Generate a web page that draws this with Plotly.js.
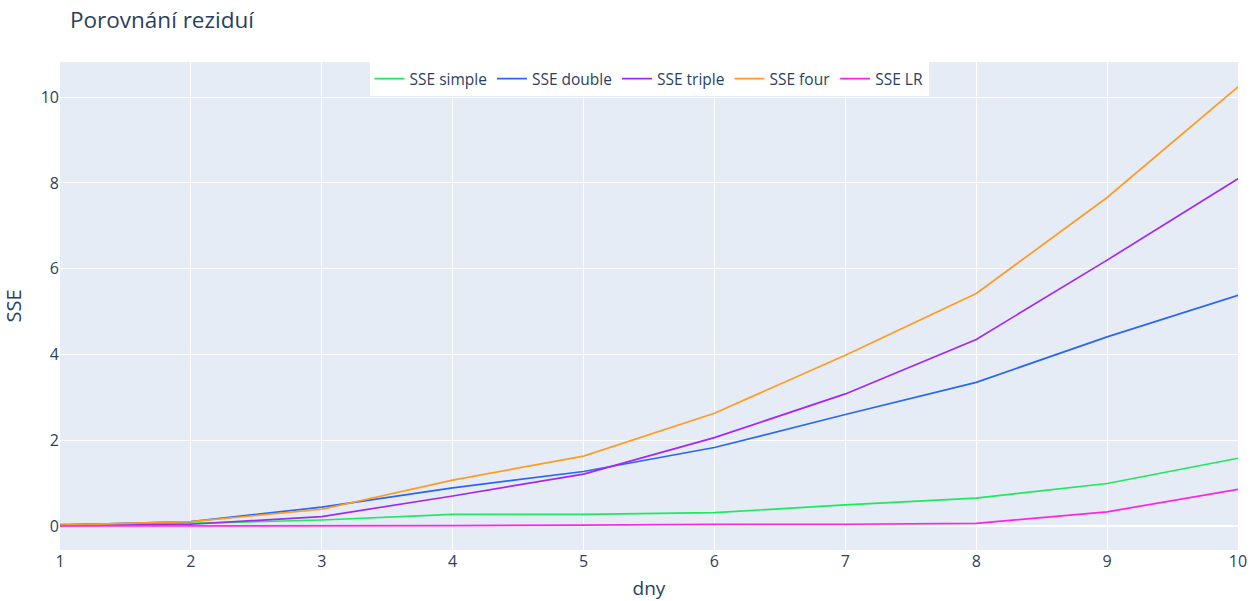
<!DOCTYPE html>
<html>
<head>
<meta charset="utf-8">
<script src="https://cdn.plot.ly/plotly-3.0.1.min.js"></script>
<style>html,body{margin:0;padding:0;background:#fff;}#chart{width:1257px;height:601px;}</style>
</head>
<body>
<div id="chart"></div>
<script>
const days = [1, 2, 3, 4, 5, 6, 7, 8, 9, 10];
const sseSimple = [0.04, 0.06, 0.14, 0.27, 0.27, 0.31, 0.49, 0.65, 0.99, 1.58];
const sseDouble = [0.02, 0.10, 0.44, 0.89, 1.27, 1.83, 2.60, 3.35, 4.41, 5.38];
const sseTriple = [0.01, 0.04, 0.22, 0.70, 1.21, 2.06, 3.08, 4.35, 6.20, 8.10];
const sseFour = [0.02, 0.10, 0.39, 1.07, 1.63, 2.63, 3.98, 5.42, 7.66, 10.24];
const sseLR = [0.0, 0.0, 0.0, 0.01, 0.02, 0.04, 0.04, 0.06, 0.33, 0.855];
const names = ['SSE simple', 'SSE double', 'SSE triple', 'SSE four', 'SSE LR'];
const colors = ['#1ee85c', '#2a66f2', '#a526f5', '#ff9b22', '#ff22e8'];
const series = [sseSimple, sseDouble, sseTriple, sseFour, sseLR];

const traces = series.map((ys, i) => ({
  x: days, y: ys, name: names[i], type: 'scatter', mode: 'lines',
  line: {color: colors[i], width: 1.7}
}));

const layout = {
  width: 1257, height: 601,
  font: {family: '"Open Sans", verdana, arial, sans-serif', size: 16, color: '#2a3f5f'},
  title: {text: 'Porovnání reziduí', x: 0.0557, xanchor: 'left', y: 0.967, yanchor: 'middle', font: {size: 22.5}},
  paper_bgcolor: '#fff', plot_bgcolor: '#E5ECF6',
  margin: {l: 60, r: 19, t: 62, b: 51},
  xaxis: {title: {text: 'dny', font: {size: 19}, standoff: 12}, gridcolor: '#fff', zeroline: false, dtick: 1, range: [1, 10]},
  yaxis: {title: {text: 'SSE', font: {size: 20}}, gridcolor: '#fff', zerolinecolor: '#fff', zerolinewidth: 2, dtick: 2, range: [-0.56, 10.82]},
  legend: {orientation: 'h', x: 0.5, xanchor: 'center', y: 1, yanchor: 'top', bgcolor: '#fff', font: {size: 15.5}, itemwidth: 30},
  showlegend: true
};

Plotly.newPlot('chart', traces, layout, {displayModeBar: false});
</script>
</body>
</html>
